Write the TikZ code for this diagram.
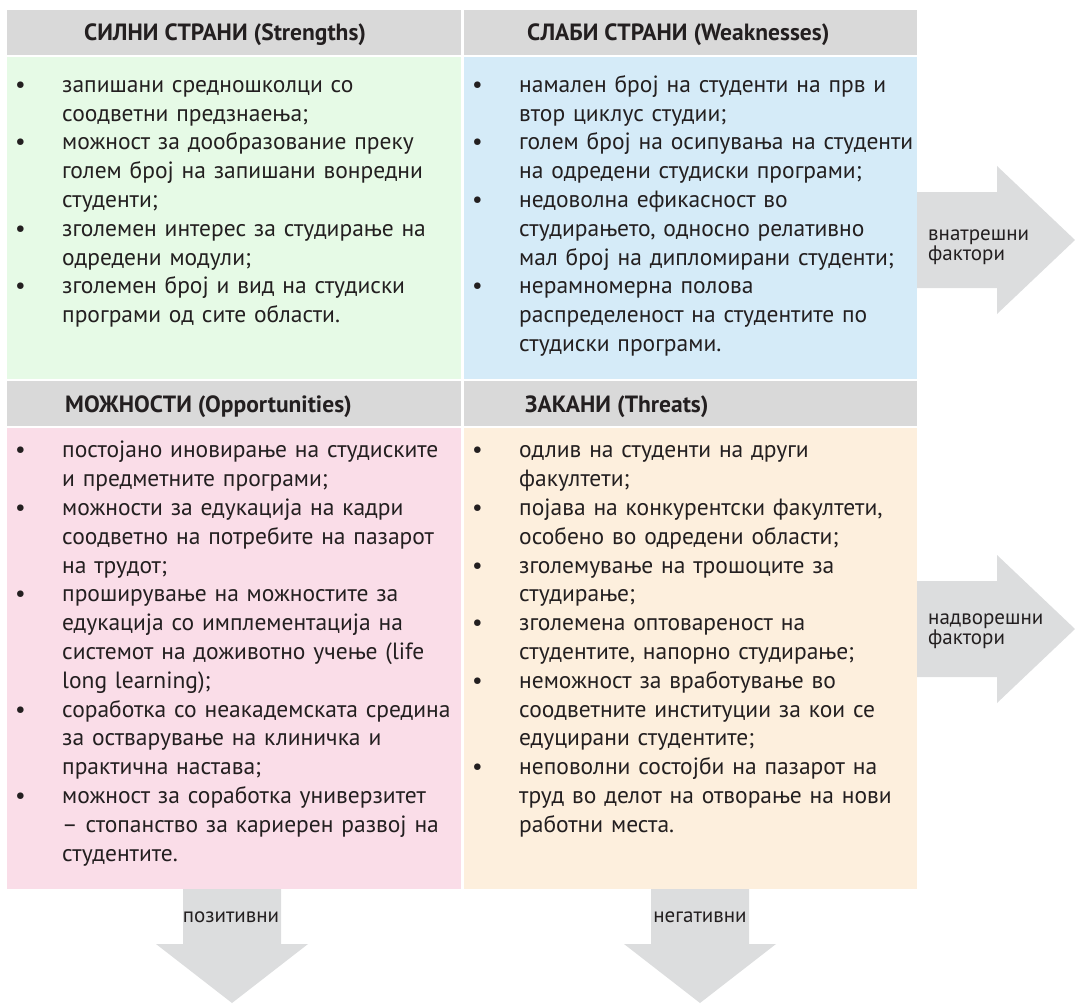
\documentclass[tikz,border=0pt]{standalone}
\usepackage{fontspec}
\setmainfont{PT Sans}
\usepackage{tikz}
\usetikzlibrary{positioning}
\definecolor{hdrgrey}{HTML}{D9D9D9}
\definecolor{strgreen}{HTML}{E6FAE6}
\definecolor{weakblue}{HTML}{D5EBF8}
\definecolor{opppink}{HTML}{FADDE8}
\definecolor{thrcream}{HTML}{FDEFDD}
\definecolor{arrgrey}{HTML}{DCDDDE}
\definecolor{ink}{HTML}{231F20}
\newcommand{\bul}{\par\noindent\hangindent=55pt\hangafter=1\makebox[55pt][l]{\strut\hspace{8pt}\textbullet}}
\tikzset{cell/.style={anchor=north west,inner sep=0pt,outer sep=0pt,draw=none},
  hdr/.style={cell,fill=hdrgrey,minimum height=45pt},
  htxt/.style={anchor=base west,inner sep=0pt,text=ink,font=\fontsize{23.5}{26}\selectfont\bfseries},
  lst/.style={anchor=north west,inner sep=0pt,text=ink,text width=470pt,align=left,font=\fontsize{23.5}{28.8}\selectfont},
  lbl/.style={inner sep=0pt,text=ink,align=left,font=\fontsize{21}{18}\selectfont},
  farrow/.style={fill=arrgrey,draw=none}}

\begin{document}
\begin{tikzpicture}[x=1pt,y=-1pt]
\useasboundingbox (0,0) rectangle (1075,1003);
% cells
\node[hdr,minimum width=454pt] (shead) at (7,10) {};
\node[hdr,minimum width=453pt] (whead) at (464,10) {};
\node[cell,fill=strgreen,minimum width=454pt,minimum height=322pt] (sbox) at (7,57) {};
\node[cell,fill=weakblue,minimum width=453pt,minimum height=322pt] (wbox) at (464,57) {};
\node[hdr,minimum width=454pt] (ohead) at (7,381) {};
\node[hdr,minimum width=453pt] (thead) at (464,381) {};
\node[cell,fill=opppink,minimum width=454pt,minimum height=461pt] (obox) at (7,428) {};
\node[cell,fill=thrcream,minimum width=453pt,minimum height=461pt] (tbox) at (464,428) {};
% titles
\node[htxt] (stitle) at (84,41) {СИЛНИ СТРАНИ (Strengths)};
\node[htxt] (wtitle) at (527,41) {СЛАБИ СТРАНИ (Weaknesses)};
\node[htxt] (otitle) at (65,412) {МОЖНОСТИ (Opportunities)};
\node[htxt] (ttitle) at (525,412) {ЗАКАНИ (Threats)};
% lists
\node[lst] (slist) at (7,63.3) {\bul запишани средношколци со\newline соодветни предзнаења;
\bul можност за дообразование преку\newline голем број на запишани вонредни\newline студенти;
\bul зголемен интерес за студирање на\newline одредени модули;
\bul зголемен број и вид на студиски\newline програми од сите области.\par};
\node[lst] (wlist) at (464,63.3) {\bul намален број на студенти на прв и\newline втор циклус студии;
\bul голем број на осипувања на студенти\newline на одредени студиски програми;
\bul недоволна ефикасност во\newline студирањето, односно релативно\newline мал број на дипломирани студенти;
\bul нерамномерна полова\newline распределеност на студентите по\newline студиски програми.\par};
\node[lst] (olist) at (7,428.8) {\bul постојано иновирање на студиските\newline и предметните програми;
\bul можности за едукација на кадри\newline соодветно на потребите на пазарот\newline на трудот;
\bul проширување на можностите за\newline едукација со имплементација на\newline системот на доживотно учење (life\newline long learning);
\bul соработка со неакадемската средина\newline за остварување на клиничка и\newline практична настава;
\bul можност за соработка универзитет\newline – стопанство за кариерен развој на\newline студентите.\par};
\node[lst] (tlist) at (464,428.8) {\bul одлив на студенти на други\newline факултети;
\bul појава на конкурентски факултети,\newline особено во одредени области;
\bul зголемување на трошоците за\newline студирање;
\bul зголемена оптовареност на\newline студентите, напорно студирање;
\bul неможност за вработување во\newline соодветните институции за кои се\newline едуцирани студентите;
\bul неповолни состојби на пазарот на\newline труд во делот на отворање на нови\newline работни места.\par};
% arrows
\fill[farrow] (917,192) -- (997,192) -- (997,166) -- (1075,240) -- (997,314) -- (997,288) -- (917,288) -- cycle;
\fill[farrow] (917,581) -- (997,581) -- (997,555) -- (1075,629) -- (997,703) -- (997,677) -- (917,677) -- cycle;
\fill[farrow] (183,889) -- (281,889) -- (281,944) -- (308,944) -- (232,1003) -- (156,944) -- (183,944) -- cycle;
\fill[farrow] (651,889) -- (749,889) -- (749,944) -- (776,944) -- (700,1003) -- (624,944) -- (651,944) -- cycle;
\node[lbl,anchor=base west] (inner) at (928,260) {внатрешни\\фактори};
\node[lbl,anchor=base west] (outer) at (928,644) {надворешни\\фактори};
\node[lbl] (pos) at (231,917) {позитивни};
\node[lbl] (neg) at (700,917) {негативни};
\end{tikzpicture}
\end{document}
